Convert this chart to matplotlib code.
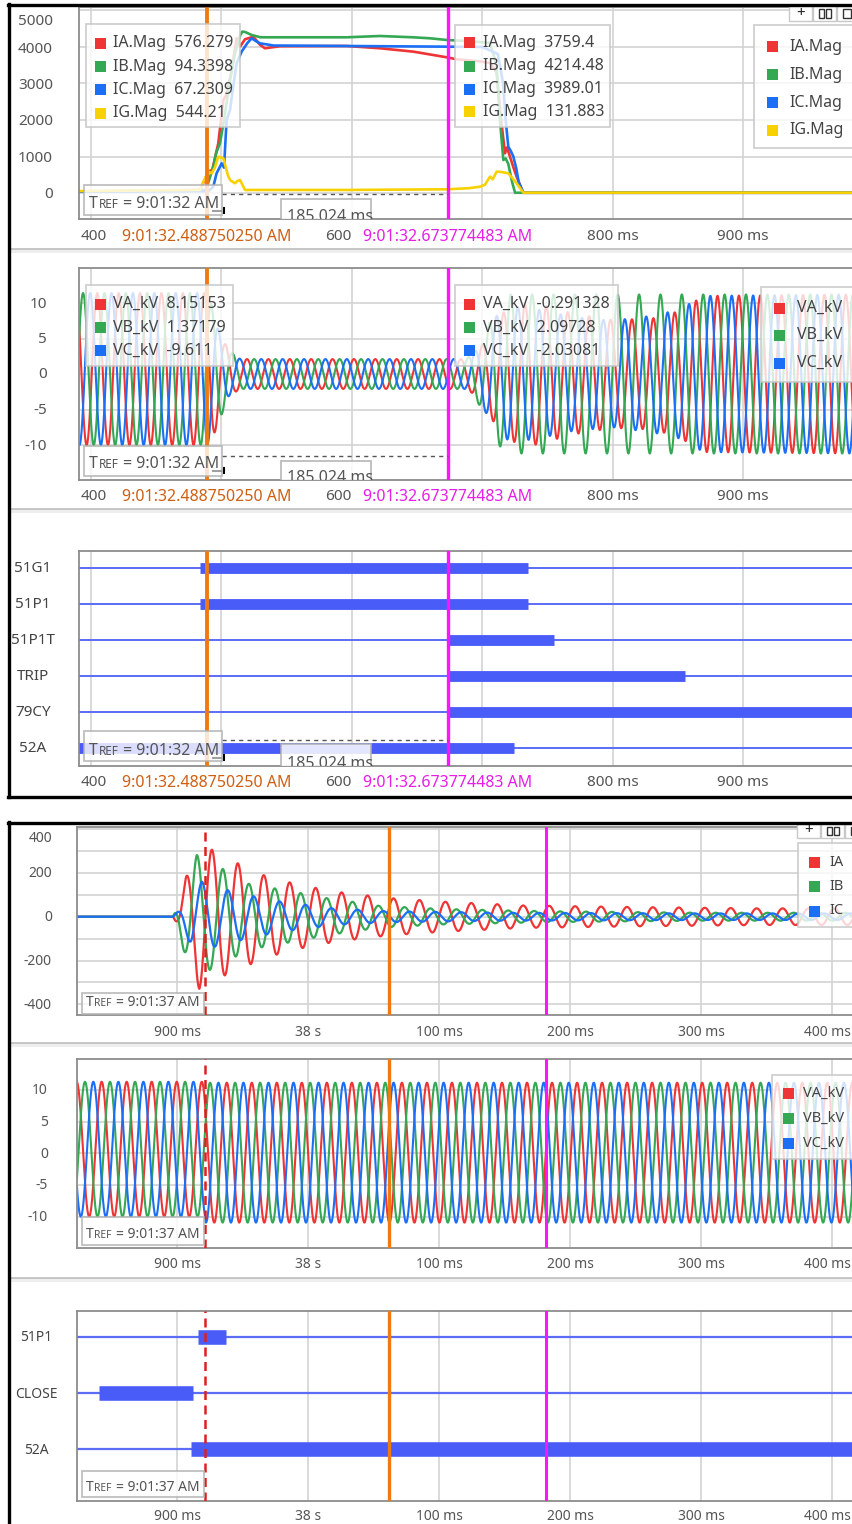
import numpy as np
import matplotlib
matplotlib.use('Agg')
import matplotlib.pyplot as plt
from matplotlib.patches import Rectangle

plt.rcParams['font.family'] = ['Noto Sans', 'DejaVu Sans']

# ---------------- data ----------------
# record 1 (trip): current magnitudes, ms after 9:01:32
ia_mag_t = [391, 483.6, 490, 493, 497.6, 501.5, 504, 507.9, 511.7, 514.3, 518.1, 524.5, 529.6, 533.4, 545, 596, 621.6,
            647.2, 672.8, 680.4, 698, 706, 711, 714.5, 717.5, 719, 721.3, 724, 726.4, 731.5, 990]
ia_mag_v = [45, 90, 590, 640, 1360, 2545, 2700, 3360, 4230, 4000, 4200, 4270, 4050, 3955, 4010, 4017, 3955,
            3863, 3709, 3654, 3600, 3550, 3300, 2000, 1090, 1250, 1000, 700, 454, 15, 15]
ib_mag_t = [391, 488, 490, 493.8, 496, 498.9, 502, 506.6, 510.4, 514.3, 516, 518.1, 523.2, 530, 596, 621.6, 647,
            660, 672.8, 690, 706, 711, 713.6, 716.2, 718, 720, 723, 725.2, 990]
ib_mag_v = [45, 90, 300, 726, 1100, 1364, 2000, 3090, 3818, 4300, 4408, 4400, 4317, 4254, 4254, 4290, 4254,
            4227, 4181, 4150, 4100, 3500, 2000, 908, 950, 800, 300, 15, 15]
ic_mag_t = [391, 490, 493.8, 496.3, 500.2, 502, 504, 506.6, 509, 511.7, 515.5, 520, 523.2, 526.5, 529.6, 540, 596,
            672.8, 700, 712, 716, 718, 720, 722, 723.9, 726, 728, 731.5, 990]
ic_mag_v = [45, 60, 181, 545, 818, 700, 2000, 2272, 2900, 3545, 3863, 4100, 4227, 4150, 4090, 4030, 4017,
            3999, 3990, 3800, 3000, 2000, 1272, 1150, 999, 700, 300, 15, 15]
ig_mag_t = [391, 483.6, 486, 490, 492.5, 495, 497.6, 501.5, 505.3, 507, 510.4, 512, 514.3, 518.1, 596, 672.8, 690,
            698.3, 702, 706, 708, 711.1, 715, 720, 723, 726.4, 731.5, 990]
ig_mag_v = [60, 90, 300, 591, 545, 700, 999, 954, 454, 350, 272, 330, 363, 91, 91, 109, 140,
            181, 230, 454, 380, 591, 580, 545, 420, 272, 18, 18]

# record 1: voltage envelopes (kV peak) and offsets, 60 Hz
v1_env_t = [390, 489, 493, 497, 502, 508, 515, 688, 696, 704, 712, 722, 740, 770, 800, 830, 850, 870, 990]
va1_env = [10.7, 10.7, 9.5, 7.5, 4.5, 2.8, 2.1, 2.1, 3.2, 5.0, 8.0, 9.5, 10.0, 8.5, 7.6, 7.8, 8.8, 11.0, 11.2]
vb1_env = [10.7, 10.7, 9.0, 7.0, 5.0, 3.0, 2.1, 2.1, 3.8, 6.5, 10.0, 11.2, 11.2, 11.2, 11.2, 11.2, 11.2, 11.2, 11.2]
vc1_env = [10.7, 10.7, 9.0, 6.5, 4.0, 2.6, 2.1, 2.1, 3.5, 5.8, 8.5, 9.5, 9.2, 8.0, 7.5, 8.2, 9.0, 11.0, 11.2]
v1_off_t = [390, 489, 500, 990]
v1_off_v = [0.7, 0.7, 0.0, 0.0]
v1_period = 16.4
va1_peak = 486.84

# record 1: digital elements (on, off in ms)
dig1_names = ['51G1', '51P1', '51P1T', 'TRIP', '79CY', '52A']
dig1_on = [483.6, 483.6, 673.8, 673.8, 673.8, 385.0]
dig1_off = [735.0, 735.0, 755.3, 855.5, 995.0, 724.6]

cur1_t, cur2_t = 488.75, 673.77
cur1_label, cur2_label = '9:01:32.488750250 AM', '9:01:32.673774483 AM'
mag_names = ['IA.Mag', 'IB.Mag', 'IC.Mag', 'IG.Mag']
mag_at_cur1 = ['576.279', '94.3398', '67.2309', '544.21']
mag_at_cur2 = ['3759.4', '4214.48', '3989.01', '131.883']
v_names = ['VA_kV', 'VB_kV', 'VC_kV']
v_at_cur1 = ['8.15153', '1.37179', '-9.611']
v_at_cur2 = ['-0.291328', '2.09728', '-2.03081']
delta_label = '185.024 ms'

# record 2 (reclose): currents (A peak envelopes), ms after 9:01:37, ~50 Hz
ia2_env_t = [820, 897, 902, 907, 917, 927, 937, 946, 966, 990, 1020, 1062, 1105, 1165, 1250, 1344, 1420]
ia2_env_v = [0, 0, 60, 183, 330, 305, 266, 245, 190, 150, 115, 85, 68, 51, 44, 38, 38]
ib2_env_t = [820, 897, 905, 915, 925, 935, 953, 973, 994, 1014, 1034, 1055, 1104, 1180, 1300, 1420]
ib2_env_v = [0, 0, 152, 282, 243, 218, 152, 131, 108, 85, 68, 49, 35, 25, 18, 18]
ic2_env_t = [820, 897, 903, 911, 919, 929, 938, 960, 980, 1000, 1019, 1060, 1150, 1300, 1420]
ic2_env_v = [0, 0, 40, 130, 160, 137, 122, 91, 68, 53, 38, 25, 18, 15, 15]
i2_period = 19.8
i2_peaks = [926.7, 915.3, 919.0]

# record 2: voltages
v2_env_t = [820, 921, 922, 1420]
v2_env_v = [10.65, 10.65, 11.05, 11.05]
v2_off_v = [0.65, 0.65, 0.1, 0.1]
v2_period = 19.1
va2_peak = 842.5

dig2_names = ['51P1', 'CLOSE', '52A']
dig2_on = [916.3, 840.7, 911.0]
dig2_off = [937.4, 912.2, 1425.0]

cur3_t, cur4_t, cur5_t = 921.4, 1061.8, 1181.7
x2_ticks = [900, 1000, 1100, 1200, 1300, 1400]
x2_labels = ['900 ms', '38 s', '100 ms', '200 ms', '300 ms', '400 ms']

# ---------------- styling ----------------
W, H = 852, 1524
RED, GREEN, BLUE, YEL = '#ee3434', '#34a853', '#1b6ff5', '#f7d200'
DIG = '#4a5cf7'
ORANGE, MAGENTA = '#ef7a12', '#ff14ff'
GRID = '#d3d3d3'
TXT = '#555555'

fig = plt.figure(figsize=(W / 100, H / 100), dpi=100)
ov = fig.add_axes([0, 0, 1, 1], zorder=20)
ov.set_xlim(0, W)
ov.set_ylim(H, 0)
ov.axis('off')
ov.patch.set_visible(False)


def top_px(ms):
    return 91 + (ms - 400) * 1.304


def bot_px(ms):
    return 177 + (ms - 900) * 1.31


def panel(box, xref, yref):
    # box: pixel box; xref/yref: (pixel, value, pixels per unit)
    x0, y0, x1, y1 = box
    ax = fig.add_axes([x0 / W, 1 - y1 / H, (x1 - x0) / W, (y1 - y0) / H])
    ax.set_xlim(xref[1] + (x0 - xref[0]) / xref[2], xref[1] + (x1 - xref[0]) / xref[2])
    ax.set_ylim(yref[1] - (y1 - yref[0]) / yref[2], yref[1] - (y0 - yref[0]) / yref[2])
    ax.tick_params(length=0, labelleft=False, labelbottom=False)
    for s in ax.spines.values():
        s.set_color('#8c8c8c')
        s.set_linewidth(1.3)
    ax.set_axisbelow(True)
    return ax


def wave(t, env_t, env_v, off_t, off_v, period, t_peak):
    return np.interp(t, off_t, off_v) + np.interp(t, env_t, env_v) * np.cos(2 * np.pi * (t - t_peak) / period)


def legend_box(x0, y0, x1, y1, colors, labels, sq_x, txt_x, ys, fs):
    ov.add_patch(Rectangle((x0, y0), x1 - x0, y1 - y0, fc='white', ec='#c4c4c4', lw=1.3, alpha=0.8, zorder=3))
    for c, lab, y in zip(colors, labels, ys):
        ov.add_patch(Rectangle((sq_x - 5.5, y - 5.5), 11, 11, fc=c, ec='none', zorder=4))
        ov.text(txt_x, y, lab, fontsize=fs, color='#444444', va='center', ha='left', zorder=4)


def tref_box(x0, y0, x1, y1, base, tx, tr, te, txt, fs):
    ov.add_patch(Rectangle((x0, y0), x1 - x0, y1 - y0, fc='white', ec='#b0b0b0', lw=1.3, alpha=0.8, zorder=3))
    ov.text(tx, base, 'T', fontsize=fs, color=TXT, va='baseline', zorder=4)
    ov.text(tr, base, 'REF', fontsize=fs * 0.74, color=TXT, va='baseline', zorder=4)
    ov.text(te, base, txt, fontsize=fs, color=TXT, va='baseline', zorder=4)


def delta_box(ax, y0, base):
    ax.add_patch(Rectangle((281, y0), 90, 30, transform=ov.transData, fc='white', ec='#b0b0b0', lw=1.3,
                           alpha=0.85, zorder=8, clip_on=True))
    ax.text(287, base, delta_label, transform=ov.transData, fontsize=11.5, color=TXT, va='baseline',
            zorder=9, clip_on=True)


def dash_span(y):
    ov.plot([222, top_px(cur2_t)], [y, y], color='#555555', lw=1.0, ls=(0, (3, 3)), zorder=2)


# ---------------- record 1 ----------------
tt = np.arange(385, 995, 0.1)
top_xref = (91, 400, 1.304)
xt1 = [400, 500, 600, 700, 800, 900]

# currents magnitude
ax1 = panel((79, 7, 862, 219), top_xref, (193.3, 0, 0.03667))
ax1.set_xticks(xt1)
ax1.set_yticks([0, 1000, 2000, 3000, 4000, 5000])
ax1.grid(True, color=GRID, lw=1.2)
ax1.plot(ia_mag_t, ia_mag_v, color=RED, lw=1.9)
ax1.plot(ib_mag_t, ib_mag_v, color=GREEN, lw=1.9)
ax1.plot(ic_mag_t, ic_mag_v, color=BLUE, lw=1.9)
ax1.plot(ig_mag_t, ig_mag_v, color=YEL, lw=1.9)

# voltages
ax2 = panel((79, 268, 862, 480), top_xref, (374, 0, 7.1))
ax2.set_xticks(xt1)
ax2.set_yticks([-10, -5, 0, 5, 10])
ax2.grid(True, color=GRID, lw=1.2)
for env, k, c in [(va1_env, 0, RED), (vb1_env, 1, GREEN), (vc1_env, 2, BLUE)]:
    ax2.plot(tt, wave(tt, v1_env_t, env, v1_off_t, v1_off_v, v1_period, va1_peak + k * v1_period / 3),
             color=c, lw=1.5)

# digitals
ax3 = panel((79, 551, 862, 766), top_xref, (747.7, 0, 36))
ax3.set_xticks(xt1)
ax3.set_yticks([])
ax3.grid(True, axis='x', color=GRID, lw=1.2)
n1 = len(dig1_names)
for i, (on, off) in enumerate(zip(dig1_on, dig1_off)):
    row = n1 - 1 - i
    ax3.plot([385, 995], [row, row], color='#5b6cf6', lw=1.4)
    ax3.plot([on, off], [row, row], color=DIG, lw=7.8, solid_capstyle='butt')

for ax in (ax1, ax2, ax3):
    ax.axvline(cur1_t, color=ORANGE, lw=2.8, zorder=6)
    ax.axvline(cur2_t, color=MAGENTA, lw=2.4, zorder=6)

# y labels
for v, y in zip([0, 1000, 2000, 3000, 4000, 5000], [195, 158.7, 121.5, 85.3, 49.3, 21.7]):
    ov.text(53, y, str(v), ha='right', va='center', fontsize=11, color=TXT)
for v in [10, 5, 0, -5, -10]:
    ov.text(47, 374 - v * 7.1 + 1, str(v), ha='right', va='center', fontsize=11, color=TXT)
for i, name in enumerate(dig1_names):
    ov.text(33, 747.7 - (n1 - 1 - i) * 36 + 1, name, ha='center', va='center', fontsize=11, color='#444444')

# x labels + cursor time labels (cursor labels hide the 500/700 ms ticks)
for ylab in (237, 497, 783):
    ov.text(81, ylab, '400', ha='left', va='center', fontsize=11, color=TXT)
    ov.text(325, ylab, '600', ha='left', va='center', fontsize=11, color=TXT)
    for ms in (800, 900):
        ov.text(top_px(ms), ylab, '%d ms' % ms, ha='center', va='center', fontsize=11, color=TXT)
    ov.text(top_px(cur1_t), ylab, cur1_label, ha='center', va='center', fontsize=11.5, color='#cf5f12')
    ov.text(top_px(cur2_t), ylab, cur2_label, ha='center', va='center', fontsize=11.5, color='#e61ee6')

# legends
cols4 = [RED, GREEN, BLUE, YEL]
legend_box(86, 24, 240, 127, cols4, ['%s  %s' % (n, v) for n, v in zip(mag_names, mag_at_cur1)],
           100.5, 113, [43.3, 66.7, 89.7, 113], 11.5)
legend_box(455, 25, 610, 127, cols4, ['%s  %s' % (n, v) for n, v in zip(mag_names, mag_at_cur2)],
           469, 482.7, [42.7, 66, 89.3, 111.7], 11.5)
legend_box(754, 25, 870, 148, cols4, mag_names, 772.3, 789.3, [46.7, 74.7, 102.7, 130], 11.5)
cols3 = [RED, GREEN, BLUE]
legend_box(86, 285, 233, 366, cols3, ['%s  %s' % (n, v) for n, v in zip(v_names, v_at_cur1)],
           100.5, 113, [304.3, 327.7, 350.5], 11.5)
legend_box(455, 285, 618, 366, cols3, ['%s  %s' % (n, v) for n, v in zip(v_names, v_at_cur2)],
           469, 482.7, [304.3, 327.7, 350.5], 11.5)
legend_box(761, 287, 870, 382, cols3, v_names, 779.7, 797, [308.3, 335, 363.3], 11.5)

# T_REF boxes, time-difference boxes
for (y0, y1, base) in [(185, 215, 208), (446, 476, 468), (731, 761, 755)]:
    tref_box(84, y0, 222, y1, base, 89, 98.5, 123, '= 9:01:32 AM', 11.5)
    ov.plot([213, 221], [base + 2.5, base + 2.5], color='#a0a0a0', lw=1.5, zorder=4)
    ov.plot([223.5, 223.5], [base, base + 5], color='black', lw=1.5, zorder=4)
dash_span(194.3)
dash_span(456)
dash_span(740)
delta_box(ax1, 199, 221)
delta_box(ax2, 461, 482.5)
delta_box(ax3, 744, 767.5)

# ---------------- record 2 ----------------
t2 = np.arange(815, 1430, 0.1)
bot_xref = (177, 900, 1.31)

bx1 = panel((77, 827, 862, 1015), bot_xref, (916.7, 0, 0.219))
bx1.set_xticks(x2_ticks)
bx1.set_yticks(np.arange(-400, 401, 100))
bx1.grid(True, color=GRID, lw=1.2)
for (et, ev, pk, c) in [(ia2_env_t, ia2_env_v, i2_peaks[0], RED), (ib2_env_t, ib2_env_v, i2_peaks[1], GREEN),
                        (ic2_env_t, ic2_env_v, i2_peaks[2], BLUE)]:
    bx1.plot(t2, wave(t2, et, ev, [0, 2000], [0, 0], i2_period, pk), color=c, lw=1.6)

bx2 = panel((77, 1059.3, 862, 1247.7), bot_xref, (1153.3, 0, 6.33))
bx2.set_xticks(x2_ticks)
bx2.set_yticks([-10, -5, 0, 5, 10])
bx2.grid(True, color=GRID, lw=1.2)
for k, c in enumerate([RED, GREEN, BLUE]):
    bx2.plot(t2, wave(t2, v2_env_t, v2_env_v, v2_env_t, v2_off_v, v2_period, va2_peak + k * v2_period / 3),
             color=c, lw=1.5)

bx3 = panel((77, 1310.7, 862, 1500.7), bot_xref, (1449.3, 0, 56.3))
bx3.set_xticks(x2_ticks)
bx3.set_yticks([])
bx3.grid(True, axis='x', color=GRID, lw=1.2)
n2 = len(dig2_names)
for i, (on, off) in enumerate(zip(dig2_on, dig2_off)):
    row = n2 - 1 - i
    bx3.plot([815, 1430], [row, row], color='#5b6cf6', lw=1.6)
    bx3.plot([on, off], [row, row], color=DIG, lw=10.5, solid_capstyle='butt')

for ax in (bx1, bx2, bx3):
    ax.axvline(cur3_t, color='#dd1f1f', lw=1.8, ls=(0, (3.6, 2.2)), zorder=6)
    ax.axvline(cur4_t, color=ORANGE, lw=2.4, zorder=6)
    ax.axvline(cur5_t, color=MAGENTA, lw=2.2, zorder=6)

for v in [400, 200, 0, -200, -400]:
    y = 839 if v == 400 else 916.7 - v * 0.219 + 1
    ov.text(52, y, str(v), ha='right', va='center', fontsize=10, color=TXT)
for v in [10, 5, 0, -5, -10]:
    ov.text(48, 1153.3 - v * 6.33 + 1, str(v), ha='right', va='center', fontsize=10, color=TXT)
for i, name in enumerate(dig2_names):
    ov.text(36, 1449.3 - (n2 - 1 - i) * 56.3 + 1, name, ha='center', va='center', fontsize=10, color='#444444')
for ylab in (1032, 1264, 1517):
    for ms, lab in zip(x2_ticks[:-1], x2_labels[:-1]):
        ov.text(bot_px(ms), ylab, lab, ha='center', va='center', fontsize=10, color=TXT)
    ov.text(851, ylab, x2_labels[-1], ha='right', va='center', fontsize=10, color=TXT)

legend_box(798, 843, 870, 927, cols3, ['IA', 'IB', 'IC'], 814, 829.3, [862.3, 886.7, 911], 10.5)
legend_box(772, 1075, 870, 1159, cols3, v_names, 788, 802.7, [1093.3, 1118.3, 1143.3], 10.5)
for (y0, y1, base) in [(993, 1014, 1006.5), (1217, 1245, 1238), (1471, 1497, 1491)]:
    tref_box(82, y0, 204, y1, base, 86, 94, 116, '= 9:01:37 AM', 10)

# ---------------- frames, separators, toolbars ----------------
ov.plot([8.5, 8.5], [4, 797], color='black', lw=2.4, zorder=30)
ov.plot([8, 860], [5, 5], color='black', lw=2.4, zorder=30)
ov.plot([8, 860], [797, 797], color='black', lw=2.4, zorder=30)
ov.plot([8.5, 8.5], [822, 1530], color='black', lw=2.4, zorder=30)
ov.plot([8, 860], [823, 823], color='black', lw=2.4, zorder=30)
for ys in (249, 509, 1043, 1278):
    ov.add_patch(Rectangle((10, ys), 850, 4, fc='#eeeeee', ec='none', zorder=1))
    ov.plot([10, 860], [ys, ys], color='#bdbdbd', lw=1.2, zorder=1)

for (x0, y0, hgt) in [(789, 6, 15), (797, 824, 14)]:
    for j in range(3):
        ov.add_patch(Rectangle((x0 + j * 24, y0), 23, hgt, fc='white', ec='#c8c8c8', lw=1.0, zorder=25))
    ov.text(x0 + 11.5, y0 + hgt / 2, '+', ha='center', va='center', fontsize=11, fontweight='bold',
            color='#222222', zorder=26)
    ov.add_patch(Rectangle((x0 + 30, y0 + 3), 5, hgt - 6, fc='none', ec='#333333', lw=1.0, zorder=26))
    ov.add_patch(Rectangle((x0 + 37, y0 + 3), 5, hgt - 6, fc='none', ec='#333333', lw=1.0, zorder=26))
    ov.add_patch(Rectangle((x0 + 54, y0 + 3), 8, hgt - 6, fc='none', ec='#333333', lw=1.0, zorder=26))

fig.savefig('out.png', dpi=100)
